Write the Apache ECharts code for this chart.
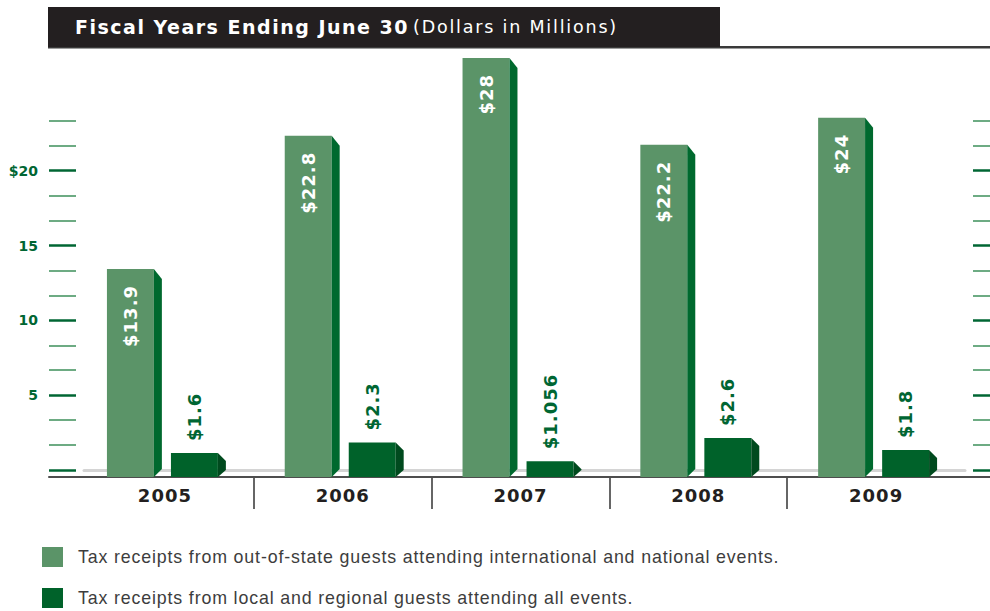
<!DOCTYPE html>
<html>
<head>
<meta charset="utf-8">
<title>Tax receipts by fiscal year</title>
<script src="https://cdn.jsdelivr.net/npm/echarts@6/dist/echarts.min.js"></script>
<style>
  html, body { margin: 0; padding: 0; background: #ffffff; }
  #chart { width: 990px; height: 611px; }
  /* tracking for the SVG text, keyed on font size */
  #chart svg text[style*="19px"], #chart svg text[font-size*="19"] { letter-spacing: 1.5px; }
  #chart svg text[style*="17.5px"], #chart svg text[font-size*="17.5"] { letter-spacing: 1.8px; }
  #chart svg text[style*="18px"], #chart svg text[font-size="18"], #chart svg text[font-size="18px"] { letter-spacing: 1px; }
  #chart svg text[style*="17.8px"], #chart svg text[font-size*="17.8"] { letter-spacing: 0.85px; }
</style>
</head>
<body>
<div id="chart"></div>
<script>
// Fiscal years on the category axis
const years = ['2005', '2006', '2007', '2008', '2009'];

// Tax receipts, dollars in millions
const outOfStateReceipts = [13.9, 22.8, 28, 22.2, 24];
const localReceipts = [1.6, 2.3, 1.056, 2.6, 1.8];

// Series names shown in the legend
const seriesNames = [
  'Tax receipts from out-of-state guests attending international and national events.',
  'Tax receipts from local and regional guests attending all events.'
];

// Header texts
const headerMain = 'Fiscal Years Ending June 30';
const headerUnit = '(Dollars in Millions)';

// Value axis: labelled ticks and their texts, plus the unlabelled ticks between them
const majorTicks = [0, 5, 10, 15, 20];
const labelTicks = [5, 10, 15, 20];
const tickLabels = ['5', '10', '15', '$20'];
const minorTicks = [];
for (let i = 1; i <= 14; i++) {
  if (i % 3 !== 0) minorTicks.push(i * 5 / 3);
}

const AXIS_MAX = 28.5;

const COLORS = {
  outFront: '#5b9468',
  outSide: '#00692e',
  localFront: '#00622a',
  localSide: '#004a1e',
  green: '#006633',
  minorTick: '#3d8f5a',
  ink: '#231f20'
};

const labelFont = 'bold 18px "DejaVu Sans"';

// Draws a bar with a narrow slanted side face for a little depth.
function makeRenderer(kind) {
  return function (params, api) {
    const idx = api.value(0);
    const val = api.value(1);
    const base = api.coord([idx, 0]);
    const top = api.coord([idx, val]);
    const bw = api.size([1, 0])[0];
    const cx = base[0];
    const w = bw * 0.264;
    const x0 = kind === 0 ? cx - bw * 0.326 : cx + bw * 0.034;
    const x1 = x0 + w;
    const depth = 8;
    let drop = kind === 0 ? 10 : 8;
    let rise = kind === 0 ? 8 : 7;
    const y0 = top[1];
    const yb = base[1];
    if (y0 + drop > yb - rise) {
      const mid = (y0 + yb) / 2;
      drop = mid - y0;
      rise = yb - mid;
    }
    const front = kind === 0 ? COLORS.outFront : COLORS.localFront;
    const side = kind === 0 ? COLORS.outSide : COLORS.localSide;
    const text = '$' + val;
    const labelX = x0 + w / 2;
    const label = kind === 0
      ? { type: 'text', x: labelX, y: y0 + 16, rotation: Math.PI / 2,
          style: { text: text, fill: '#ffffff', font: labelFont, align: 'right', verticalAlign: 'middle' } }
      : { type: 'text', x: labelX, y: y0 - 12, rotation: Math.PI / 2,
          style: { text: text, fill: COLORS.green, font: labelFont, align: 'left', verticalAlign: 'middle' } };
    return {
      type: 'group',
      children: [
        { type: 'rect', shape: { x: x0, y: y0, width: w, height: yb - y0 }, style: { fill: front } },
        { type: 'polygon',
          shape: { points: [[x1, y0], [x1 + depth, y0 + drop], [x1 + depth, yb - rise], [x1, yb]] },
          style: { fill: side } },
        label
      ]
    };
  };
}

const chart = echarts.init(document.getElementById('chart'), null, { renderer: 'svg' });

const frontBottom = 134;   // front plane baseline at y = 477
const frontHeight = 426.5;
const backShift = 7;       // back plane sits a little higher

function tickAxis(position, values, length, color, width, withLabels) {
  return {
    gridIndex: 1, type: 'value', min: 0, max: AXIS_MAX, position: position, offset: 8,
    axisLine: { show: false, onZero: false },
    axisTick: { show: true, length: length, customValues: values, lineStyle: { color: color, width: width } },
    axisLabel: withLabels ? {
      show: true, customValues: labelTicks, margin: 38,
      color: COLORS.green, fontFamily: '"DejaVu Sans"', fontWeight: 'bold', fontSize: 14,
      formatter: function (v) {
        const i = labelTicks.findIndex(function (t) { return Math.abs(t - v) < 1e-6; });
        return i >= 0 ? tickLabels[i] : '';
      }
    } : { show: false },
    splitLine: { show: false }
  };
}

chart.setOption({
  animation: false,
  backgroundColor: '#ffffff',
  textStyle: { fontFamily: '"DejaVu Sans", sans-serif' },
  graphic: [
    { type: 'rect', left: 48, top: 46, shape: { width: 942, height: 2.5 }, style: { fill: '#3a3a3a' }, z: 1 },
    { type: 'rect', left: 48, top: 7, shape: { width: 672, height: 40 }, style: { fill: COLORS.ink }, z: 2 },
    { type: 'text', left: 75, top: 17, z: 3,
      style: { text: headerMain, fill: '#ffffff', font: 'bold 19px "DejaVu Sans"' } },
    { type: 'text', left: 413, top: 18, z: 3,
      style: { text: headerUnit, fill: '#ffffff', font: 'normal 17.5px "DejaVu Sans"' } }
  ],
  legend: {
    orient: 'vertical',
    left: 42,
    top: 547,
    padding: 0,
    itemWidth: 21,
    itemHeight: 20,
    itemGap: 21,
    icon: 'rect',
    selectedMode: false,
    textStyle: {
      fontFamily: '"Liberation Sans", Arial, sans-serif',
      fontSize: 17.8,
      color: '#3d3d3d',
      padding: [0, 0, 0, 10]
    },
    data: seriesNames
  },
  grid: [
    // front plane: bars
    { left: 76, right: 25, bottom: frontBottom, height: frontHeight },
    // back plane: tick marks and floor line
    { left: 84, right: 25, bottom: frontBottom + backShift, height: frontHeight },
    // long baseline under the bars
    { left: 49, right: 0, bottom: frontBottom, height: 1 },
    // separators between the year labels
    { left: 76, right: 25, top: 478, height: 31 }
  ],
  xAxis: [
    {
      gridIndex: 0, type: 'category', data: years, boundaryGap: true,
      axisLine: { show: false }, axisTick: { show: false },
      axisLabel: { margin: 9, color: COLORS.ink, fontFamily: '"DejaVu Sans"', fontWeight: 'bold', fontSize: 18 },
      splitLine: { show: false }
    },
    {
      gridIndex: 1, type: 'value', min: 0, max: 1,
      axisLine: { show: true, onZero: false, lineStyle: { color: '#d4d4d4', width: 3 } },
      axisTick: { show: false }, axisLabel: { show: false }, splitLine: { show: false }
    },
    {
      gridIndex: 2, type: 'value', min: 0, max: 1,
      axisLine: { show: true, onZero: false, lineStyle: { color: '#4d4d4d', width: 2 } },
      axisTick: { show: false }, axisLabel: { show: false }, splitLine: { show: false }
    },
    {
      gridIndex: 3, type: 'category', data: years, boundaryGap: true,
      axisLine: { show: false }, axisTick: { show: false }, axisLabel: { show: false },
      splitLine: { show: true, showMinLine: false, showMaxLine: false, lineStyle: { color: '#333333', width: 1.5 } }
    }
  ],
  yAxis: [
    { gridIndex: 0, type: 'value', min: 0, max: AXIS_MAX, show: false },
    tickAxis('left', majorTicks, 27, COLORS.green, 2.5, true),
    tickAxis('left', minorTicks, 27, COLORS.minorTick, 1.5, false),
    tickAxis('right', majorTicks, 18, COLORS.green, 2.5, false),
    tickAxis('right', minorTicks, 18, COLORS.minorTick, 1.5, false),
    { gridIndex: 2, type: 'value', show: false },
    { gridIndex: 3, type: 'value', show: true, axisLine: { show: false }, axisTick: { show: false },
      axisLabel: { show: false }, splitLine: { show: false } }
  ],
  series: [
    {
      name: seriesNames[0],
      type: 'custom',
      xAxisIndex: 0,
      yAxisIndex: 0,
      itemStyle: { color: COLORS.outFront },
      renderItem: makeRenderer(0),
      encode: { x: 0, y: 1 },
      data: outOfStateReceipts.map(function (v, i) { return [i, v]; }),
      z: 3
    },
    {
      name: seriesNames[1],
      type: 'custom',
      xAxisIndex: 0,
      yAxisIndex: 0,
      itemStyle: { color: COLORS.localFront },
      renderItem: makeRenderer(1),
      encode: { x: 0, y: 1 },
      data: localReceipts.map(function (v, i) { return [i, v]; }),
      z: 3
    }
  ]
});
</script>
</body>
</html>
